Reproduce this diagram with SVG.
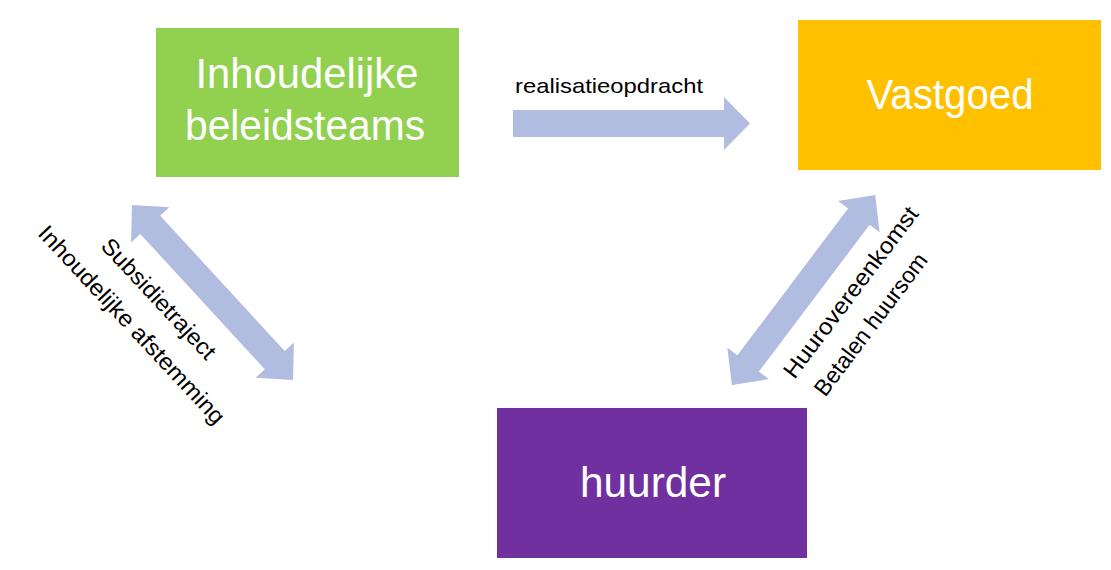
<svg xmlns="http://www.w3.org/2000/svg" width="1111" height="570" viewBox="0 0 1111 570">
<style>
.box-label{font-family:"Liberation Sans",Arial,sans-serif;font-size:42px;fill:#ffffff;text-anchor:middle}
.lbl{font-family:"Liberation Sans",Arial,sans-serif;font-size:21px;fill:#000000;text-anchor:middle}
.rot{font-size:23px}
.arrow{fill:#B0BCE0}
</style>
<defs>
<path id="dbl" d="M -119 0 L -92 -26 L -92 -13.5 L 92 -13.5 L 92 -26 L 119 0 L 92 26 L 92 13.5 L -92 13.5 L -92 26 Z"/>
</defs>
<rect width="1111" height="570" fill="#ffffff"/>
<g id="connectors">
<path class="arrow" d="M513 110 H724 V97 L750 123.5 L724 150 V137 H513 Z"/>
<use href="#dbl" class="arrow" transform="translate(212.5 292.5) rotate(47.4)"/>
<use href="#dbl" class="arrow" transform="translate(803.5 290) rotate(-53)"/>
<text class="lbl" x="609" y="93" textLength="188" lengthAdjust="spacingAndGlyphs">realisatieopdracht</text>
<text class="lbl rot" transform="translate(153 304) rotate(47)" textLength="156" lengthAdjust="spacingAndGlyphs">Subsidietraject</text>
<text class="lbl rot" transform="translate(126 330) rotate(47)" textLength="262" lengthAdjust="spacingAndGlyphs">Inhoudelijke afstemming</text>
<text class="lbl rot" transform="translate(857 297) rotate(-53)" textLength="208" lengthAdjust="spacingAndGlyphs">Huurovereenkomst</text>
<text class="lbl rot" transform="translate(877 329) rotate(-53)" textLength="172" lengthAdjust="spacingAndGlyphs">Betalen huursom</text>
</g>
<g id="node-beleidsteams">
<rect x="156" y="28" width="303" height="149" fill="#92D050"/>
<text class="box-label" x="307" y="88" textLength="223" lengthAdjust="spacingAndGlyphs">Inhoudelijke</text>
<text class="box-label" x="305" y="140" textLength="240" lengthAdjust="spacingAndGlyphs">beleidsteams</text>
</g>
<g id="node-vastgoed">
<rect x="798" y="20" width="303" height="150" fill="#FFC000"/>
<text class="box-label" x="950" y="109" textLength="167" lengthAdjust="spacingAndGlyphs">Vastgoed</text>
</g>
<g id="node-huurder">
<rect x="497" y="408" width="310" height="150" fill="#7030A0"/>
<text class="box-label" x="653" y="497" textLength="146" lengthAdjust="spacingAndGlyphs">huurder</text>
</g>
</svg>
